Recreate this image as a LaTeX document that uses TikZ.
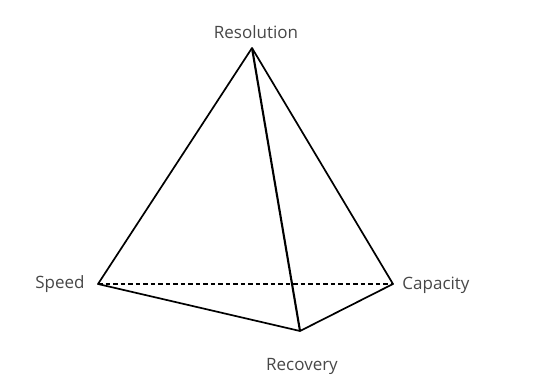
\documentclass[tikz,border=0pt]{standalone}
\usepackage{fontspec}
\setmainfont{Open Sans}
\usepackage{tikz}
\usetikzlibrary{positioning}

\begin{document}
\begin{tikzpicture}[x=1pt,y=-1pt,every node/.style={font=\fontsize{17}{20}\selectfont,text=black!72},
   edge/.style={draw=black,line width=1.7pt,line join=round},
   hidden/.style={edge,line width=1.3pt,dash pattern=on 4.5pt off 3pt}]
  \useasboundingbox (0,0) rectangle (549,380);
  \coordinate (res) at (252,48);
  \coordinate (spd) at (98,284);
  \coordinate (cap) at (393,284);
  \coordinate (rec) at (300,331);
  \node (lres) at (256,32) {Resolution};
  \node (lspd) at (60,284) {Speed};
  \node (lcap) at (436,285) {Capacity};
  \node (lrec) at (302,366) {Recovery};
  \draw[hidden] (spd)--(cap);
  \draw[edge] (res)--(spd)--(rec)--(cap)--cycle;
  \draw[edge,line width=2.1pt] (res)--(rec);
\end{tikzpicture}
\end{document}
